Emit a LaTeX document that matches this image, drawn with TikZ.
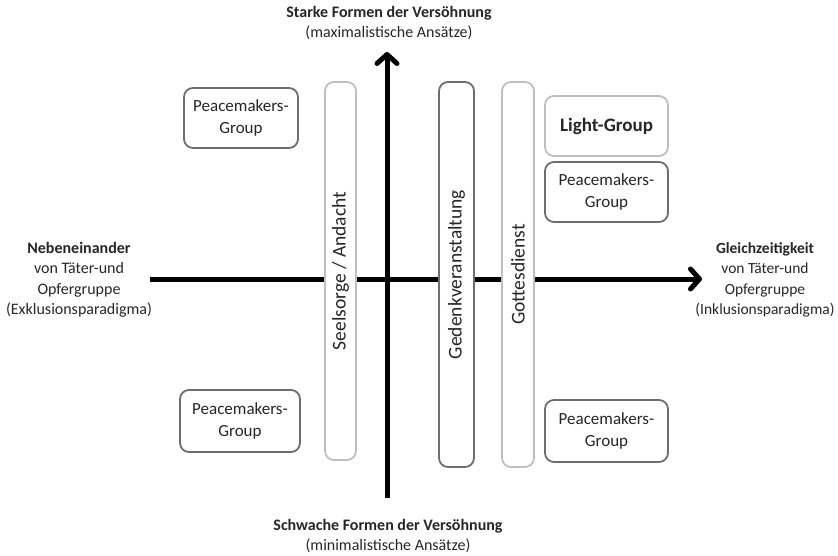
\documentclass[tikz,border=0pt]{standalone}
\usepackage{fontspec}
\setmainfont{Carlito}
\usetikzlibrary{arrows.meta}
\definecolor{txt}{HTML}{262626}
\definecolor{lightb}{HTML}{BFBFBF}
\definecolor{darkb}{HTML}{6E6E6E}
\tikzset{
  axis/.style={line width=5pt, -{Straight Barb[length=9pt,width=20pt,line cap=round,line join=round]}, black},
  gbox/.style={draw, rounded corners=9pt, line width=1.8pt, fill=white, text=txt, align=center, inner sep=0pt, font=\fontsize{17}{21.5}\selectfont},
  lightbox/.style={gbox, draw=lightb},
  darkbox/.style={gbox, draw=darkb},
  bartext/.style={rotate=90, text=txt, font=\fontsize{19.5}{22}\selectfont},
  lbl/.style={text=txt, align=center, font=\fontsize{16}{20.5}\selectfont, inner sep=0pt},
}
\begin{document}
\begin{tikzpicture}[x=1pt,y=-1pt]
\useasboundingbox (0,0) rectangle (838,556);
% axes
\coordinate (hs) at (150,279);
\coordinate (he) at (702,279);
\coordinate (vs) at (387,498);
\coordinate (ve) at (387,52);
\draw[axis] (hs) -- (he);
\draw[axis] (vs) -- (ve);
% vertical bars
\node[lightbox, minimum width=31pt, minimum height=378pt] (seel) at (340.5,271) {};
\node[bartext] (seelt) at (seel.center) {Seelsorge / Andacht};
\node[darkbox, minimum width=35pt, minimum height=385pt] (ged) at (456.5,274.5) {};
\node[bartext] (gedt) at (ged.center) {Gedenkveranstaltung};
\node[lightbox, minimum width=32pt, minimum height=385pt] (gott) at (518,274.5) {};
\node[bartext] (gottt) at (gott.center) {Gottesdienst};
% group boxes
\node[darkbox, minimum width=114pt, minimum height=60pt] (pm1) at (241,118) {Peacemakers-\\Group};
\node[lightbox, minimum width=123pt, minimum height=60pt, font=\fontsize{19}{22}\selectfont\bfseries] (lg) at (606.5,126) {Light-Group};
\node[darkbox, minimum width=123pt, minimum height=60pt] (pm2) at (606.5,192) {Peacemakers-\\Group};
\node[darkbox, minimum width=120pt, minimum height=62pt] (pm3) at (240,421) {Peacemakers-\\Group};
\node[darkbox, minimum width=123pt, minimum height=62pt] (pm4) at (606.5,431) {Peacemakers-\\Group};
% axis labels
\node[lbl] (top) at (389,23) {\textbf{Starke Formen der Versöhnung}\\(maximalistische Ansätze)};
\node[lbl] (bot) at (388,536) {\textbf{Schwache Formen der Versöhnung}\\(minimalistische Ansätze)};
\node[lbl] (left) at (79,280) {\textbf{Nebeneinander}\\von Täter-und\\Opfergruppe\\(Exklusionsparadigma)};
\node[lbl, font=\fontsize{15.5}{20.5}\selectfont] (right) at (765,280) {\textbf{Gleichzeitigkeit}\\von Täter-und\\Opfergruppe\\(Inklusionsparadigma)};
\end{tikzpicture}
\end{document}
